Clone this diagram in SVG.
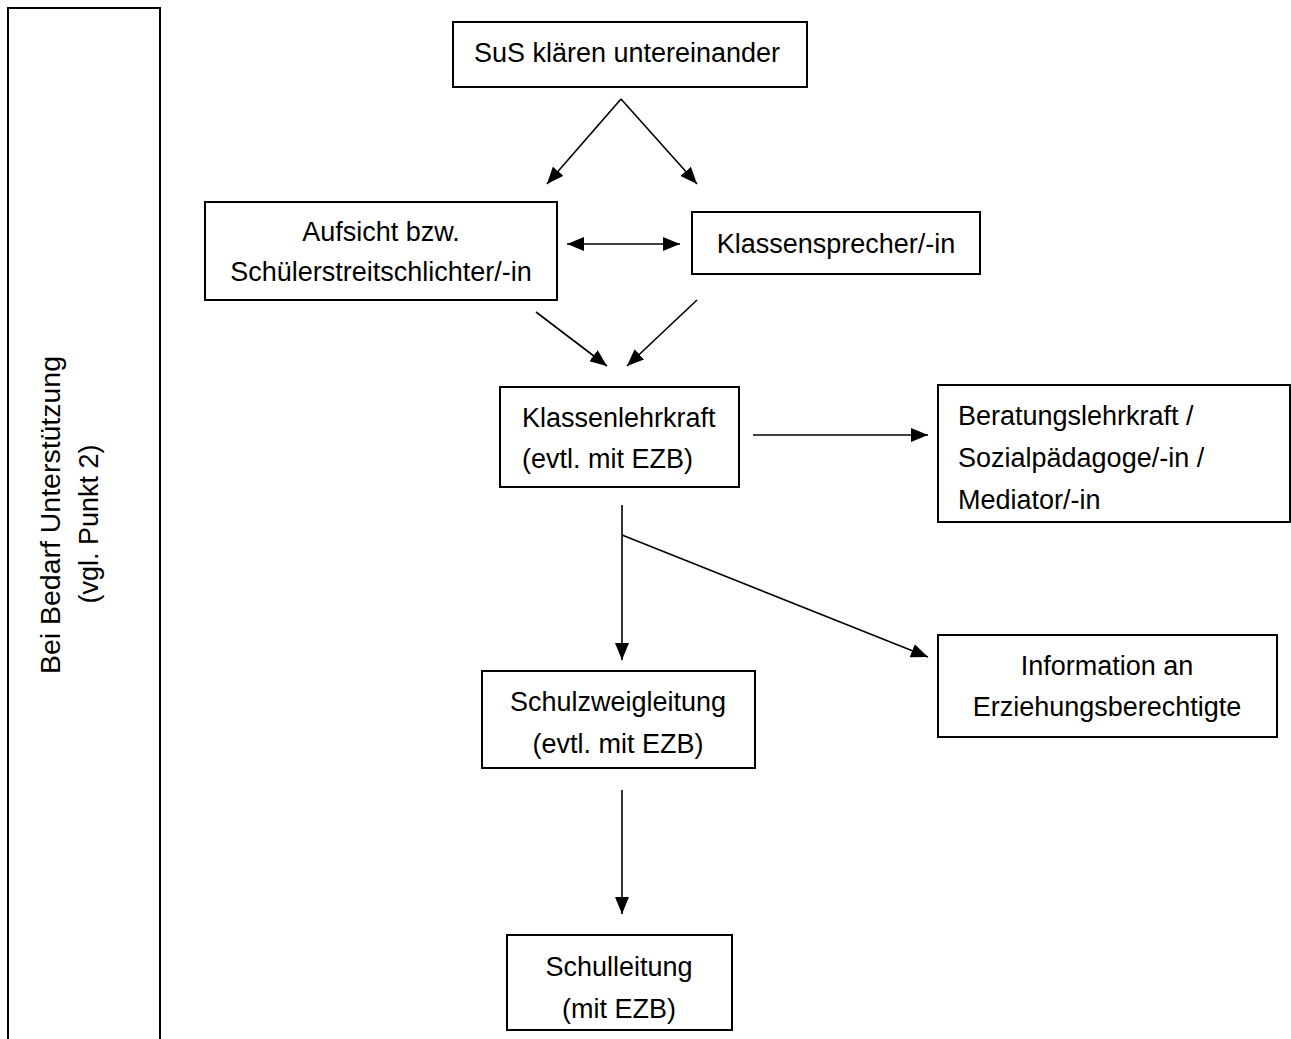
<svg xmlns="http://www.w3.org/2000/svg" width="1291" height="1039" viewBox="0 0 1291 1039">
<defs>
<style>
.box{fill:#fff;stroke:#000;stroke-width:2}
.t{font-family:"Liberation Sans",Arial,sans-serif;font-size:27px;fill:#000}
.c{text-anchor:middle}
.ln{stroke:#000;stroke-width:1.6;fill:none}
</style>
<marker id="ah" markerUnits="userSpaceOnUse" markerWidth="18" markerHeight="14" viewBox="0 0 18 14" refX="17" refY="7" orient="auto-start-reverse">
<path d="M0,0 L17,7 L0,14 z" fill="#000"/>
</marker>
</defs>
<rect width="1291" height="1039" fill="#fff"/>
<g id="side">
<path d="M8,1039 V8 H160 V1039" class="box" fill="none"/>
<text class="t c" transform="rotate(-90 60 515)" x="60" y="515" textLength="318" lengthAdjust="spacingAndGlyphs">Bei Bedarf Unterstützung</text>
<text class="t c" transform="rotate(-90 98 524)" x="98" y="524">(vgl. Punkt 2)</text>
</g>
<g id="connectors">
<line class="ln" x1="621" y1="99" x2="547" y2="184" marker-end="url(#ah)"/>
<line class="ln" x1="621" y1="99" x2="697" y2="184" marker-end="url(#ah)"/>
<line class="ln" x1="567" y1="244" x2="680" y2="244" marker-start="url(#ah)" marker-end="url(#ah)"/>
<line class="ln" x1="536" y1="312" x2="607" y2="366" marker-end="url(#ah)"/>
<line class="ln" x1="697" y1="300" x2="627" y2="366" marker-end="url(#ah)"/>
<line class="ln" x1="753" y1="435" x2="928" y2="435" marker-end="url(#ah)"/>
<line class="ln" x1="622" y1="505" x2="622" y2="660" marker-end="url(#ah)"/>
<line class="ln" x1="622" y1="535" x2="928" y2="657" marker-end="url(#ah)"/>
<line class="ln" x1="622" y1="790" x2="622" y2="914" marker-end="url(#ah)"/>
</g>
<g id="n-sus">
<rect class="box" x="453" y="22" width="354" height="65"/>
<text class="t c" x="627" y="62">SuS klären untereinander</text>
</g>
<g id="n-aufsicht">
<rect class="box" x="205" y="202" width="352" height="98"/>
<text class="t c" x="381" y="241">Aufsicht bzw.</text>
<text class="t c" x="381" y="281">Schülerstreitschlichter/-in</text>
</g>
<g id="n-klassensprecher">
<rect class="box" x="692" y="212" width="288" height="62"/>
<text class="t c" x="836" y="253">Klassensprecher/-in</text>
</g>
<g id="n-klassenlehrkraft">
<rect class="box" x="500" y="387" width="239" height="100"/>
<text class="t" x="522" y="427">Klassenlehrkraft</text>
<text class="t" x="522" y="468">(evtl. mit EZB)</text>
</g>
<g id="n-beratung">
<rect class="box" x="938" y="385" width="352" height="137"/>
<text class="t" x="958" y="425">Beratungslehrkraft /</text>
<text class="t" x="958" y="467">Sozialpädagoge/-in /</text>
<text class="t" x="958" y="509">Mediator/-in</text>
</g>
<g id="n-schulzweig">
<rect class="box" x="482" y="671" width="273" height="97"/>
<text class="t c" x="618" y="711">Schulzweigleitung</text>
<text class="t c" x="618" y="753">(evtl. mit EZB)</text>
</g>
<g id="n-info">
<rect class="box" x="938" y="635" width="339" height="102"/>
<text class="t c" x="1107" y="675">Information an</text>
<text class="t c" x="1107" y="716">Erziehungsberechtigte</text>
</g>
<g id="n-schulleitung">
<rect class="box" x="507" y="935" width="225" height="95"/>
<text class="t c" x="619" y="976">Schulleitung</text>
<text class="t c" x="619" y="1018">(mit EZB)</text>
</g>
</svg>
